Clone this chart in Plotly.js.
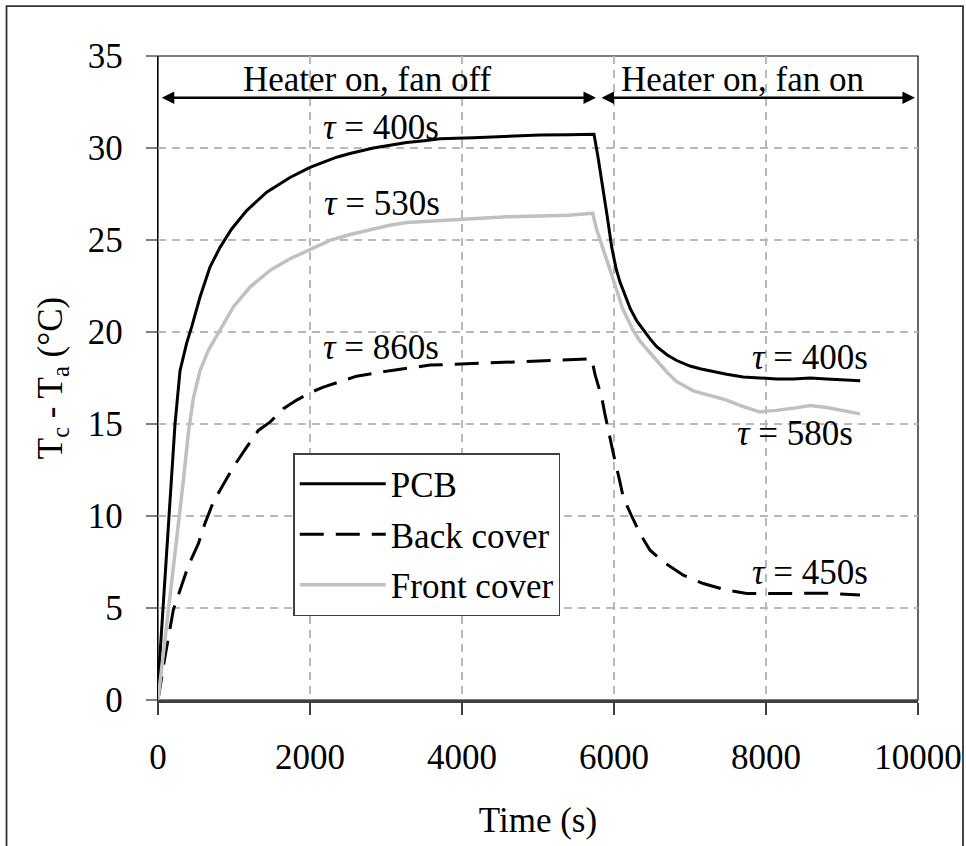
<!DOCTYPE html>
<html>
<head>
<meta charset="utf-8">
<script src="https://cdn.plot.ly/plotly-3.0.1.min.js"></script>
<style>
  html, body { margin: 0; padding: 0; background: #ffffff; }
  #chart { width: 966px; height: 846px; }
</style>
</head>
<body>
<div id="chart"></div>
<script>
// ---- data ----
var seriesNames = ["PCB", "Back cover", "Front cover"];

var pcbTime = [0, 224, 260, 290, 377, 443, 553, 684, 816, 969, 1167, 1430, 1737, 2000, 2351, 2526, 2833, 3050, 3272, 3500, 3711, 4149, 4588, 5026, 5400, 5737,
  5790, 5850, 5910, 5970, 6030, 6080, 6150, 6211, 6300, 6386, 6480, 6562, 6700, 6825, 7000, 7132, 7300, 7482, 7700, 7921, 8140, 8360, 8580, 8798, 9018, 9240];
var pcbTemp = [0.8, 15.0, 16.6, 17.9, 19.4, 20.28, 21.9, 23.53, 24.6, 25.6, 26.6, 27.6, 28.4, 28.95, 29.5, 29.7, 30.0, 30.15, 30.3, 30.4, 30.5, 30.56, 30.65, 30.7, 30.72, 30.75,
  29.5, 28.0, 26.3, 24.6, 23.4, 22.7, 21.9, 21.3, 20.6, 20.1, 19.6, 19.2, 18.75, 18.45, 18.15, 18.0, 17.85, 17.7, 17.55, 17.5, 17.45, 17.45, 17.5, 17.45, 17.4, 17.35];

var backTime = [0, 92, 202, 311, 399, 531, 618, 728, 838, 991, 1167, 1320, 1474, 1649, 1825, 2000, 2175, 2395, 2614, 3053, 3579, 4061, 4588, 5026, 5400, 5707,
  5750, 5838, 5880, 5947, 5991, 6070, 6123, 6232, 6342, 6474, 6649, 6912, 7175, 7482, 7746, 8009, 8360, 8798, 9237];
var backTemp = [0, 2.35, 4.9, 6.3, 7.3, 8.5, 9.6, 10.76, 11.57, 12.66, 13.74, 14.65, 15.1, 15.83, 16.3, 16.7, 17.0, 17.3, 17.6, 17.9, 18.2, 18.27, 18.36, 18.45, 18.5, 18.54,
  17.7, 16.45, 15.55, 14.2, 13.4, 12.0, 11.0, 10.0, 9.04, 8.14, 7.5, 6.78, 6.33, 5.97, 5.79, 5.79, 5.79, 5.8, 5.7];

var frontTime = [0, 120, 224, 333, 399, 465, 553, 662, 816, 991, 1211, 1474, 1737, 2000, 2263, 2526, 2833, 3050, 3272, 3500, 3711, 4149, 4588, 5026, 5400, 5720,
  5770, 5850, 5950, 6057, 6110, 6167, 6250, 6342, 6450, 6562, 6700, 6825, 7044, 7250, 7482, 7700, 7921, 8000, 8140, 8350, 8579, 8798, 9018, 9237];
var frontTemp = [0, 4.2, 8.0, 11.9, 14.5, 16.4, 17.9, 19.0, 20.1, 21.36, 22.44, 23.35, 23.98, 24.5, 24.98, 25.3, 25.6, 25.8, 25.95, 26.0, 26.07, 26.18, 26.26, 26.3, 26.35, 26.45,
  25.6, 24.6, 23.4, 22.0, 21.3, 20.8, 20.1, 19.5, 18.95, 18.45, 17.8, 17.3, 16.8, 16.55, 16.3, 15.95, 15.65, 15.7, 15.74, 15.85, 16.0, 15.9, 15.74, 15.55];

var xTickVals = [0, 2000, 4000, 6000, 8000, 10000];
var yTickVals = [0, 5, 10, 15, 20, 25, 30, 35];

var phaseLabels = ["Heater on, fan off", "Heater on, fan on"];
var tauLabels = ["τ = 400s", "τ = 530s", "τ = 860s", "τ = 400s", "τ = 580s", "τ = 450s"];
var tauX = [2934, 2950, 2934, 8579, 8382, 8579];
var tauY = [31.1, 27.0, 19.15, 18.6, 14.5, 6.95];

// ---- chart ----
var FONT = "Liberation Serif";
var FS = 35;

var traces = [
  { x: pcbTime, y: pcbTemp, name: seriesNames[0], mode: "lines", legendgroup: "a",
    line: { color: "#000000", width: 3 } },
  { x: backTime, y: backTemp, name: seriesNames[1], mode: "lines", legendgroup: "b",
    line: { color: "#000000", width: 3, dash: "24px,12px" } },
  { x: frontTime, y: frontTemp, name: seriesNames[2], mode: "lines", legendgroup: "c",
    line: { color: "#c0c0c0", width: 3.5 } }
];

var annotations = [];
// phase arrows
annotations.push({ x: 5763, y: 32.73, ax: 30, ay: 32.73, xref: "x", yref: "y", axref: "x", ayref: "y",
  text: "", showarrow: true, arrowside: "end+start", arrowhead: 2, startarrowhead: 2,
  arrowsize: 1, startarrowsize: 1, arrowwidth: 2.5, arrowcolor: "#000000", standoff: 0, startstandoff: 0 });
annotations.push({ x: 9960, y: 32.73, ax: 5816, ay: 32.73, xref: "x", yref: "y", axref: "x", ayref: "y",
  text: "", showarrow: true, arrowside: "end+start", arrowhead: 2, startarrowhead: 2,
  arrowsize: 1, startarrowsize: 1, arrowwidth: 2.5, arrowcolor: "#000000", standoff: 0, startstandoff: 0 });
annotations.push({ x: 2750, y: 33.7, xref: "x", yref: "y", text: phaseLabels[0], showarrow: false,
  xanchor: "center", yanchor: "middle", font: { family: FONT, size: FS, color: "#000" } });
annotations.push({ x: 7697, y: 33.7, xref: "x", yref: "y", text: phaseLabels[1], showarrow: false,
  xanchor: "center", yanchor: "middle", font: { family: FONT, size: FS, color: "#000" } });
for (var i = 0; i < tauLabels.length; i++) {
  annotations.push({ x: tauX[i], y: tauY[i], xref: "x", yref: "y",
    text: tauLabels[i].replace("τ", "<i>τ</i>"), showarrow: false,
    xanchor: "center", yanchor: "middle", bgcolor: "rgba(0,0,0,0)",
    font: { family: FONT, size: FS, color: "#000" } });
}

var layout = {
  width: 966, height: 846,
  margin: { l: 158, r: 48, t: 56, b: 146, pad: 0 },
  paper_bgcolor: "#ffffff", plot_bgcolor: "#ffffff",
  font: { family: FONT, size: FS, color: "#000000" },
  showlegend: true,
  legend: {
    x: 0.178, y: 0.3835, xanchor: "left", yanchor: "top",
    bgcolor: "#ffffff", bordercolor: "#404040", borderwidth: 1.5,
    font: { family: FONT, size: FS, color: "#000" },
    traceorder: "grouped", tracegroupgap: 2, itemwidth: 86
  },
  xaxis: {
    range: [0, 10000], tickvals: xTickVals, ticktext: xTickVals.map(String),
    showgrid: true, gridcolor: "#b8b8b8", gridwidth: 1.2, griddash: "8px,6px",
    showline: true, linecolor: "#404040", linewidth: 2.5,
    ticks: "outside", ticklen: 12, tickwidth: 1.2, tickcolor: "#404040",
    ticklabelstandoff: 12, zeroline: false,
    title: { text: "Time (s)", font: { family: FONT, size: FS }, standoff: 32 },
    tickfont: { family: FONT, size: FS }
  },
  yaxis: {
    range: [0, 35], tickvals: yTickVals, ticktext: yTickVals.map(String),
    showgrid: true, gridcolor: "#b8b8b8", gridwidth: 1.2, griddash: "8px,6px",
    showline: true, linecolor: "#000000", linewidth: 1.2,
    ticks: "outside", ticklen: 11, tickwidth: 1.2, tickcolor: "#808080",
    ticklabelstandoff: 16, zeroline: false,
    title: { text: "T<sub>c</sub> - T<sub>a</sub> (°C)", font: { family: FONT, size: FS }, standoff: 14 },
    tickfont: { family: FONT, size: FS }
  },
  shapes: [
    { type: "rect", xref: "paper", yref: "paper", x0: 0, x1: 1, y0: 0, y1: 1,
      line: { color: "#000000", width: 1.2 }, fillcolor: "rgba(0,0,0,0)", layer: "below" },
    { type: "rect", xref: "paper", yref: "paper", x0: -0.1993, x1: 1.0592, y0: -0.25, y1: 1.0776,
      line: { color: "#333333", width: 1.8 }, fillcolor: "rgba(0,0,0,0)", layer: "below" }
  ],
  annotations: annotations
};

Plotly.newPlot("chart", traces, layout, { staticPlot: true, displayModeBar: false });
</script>
</body>
</html>
